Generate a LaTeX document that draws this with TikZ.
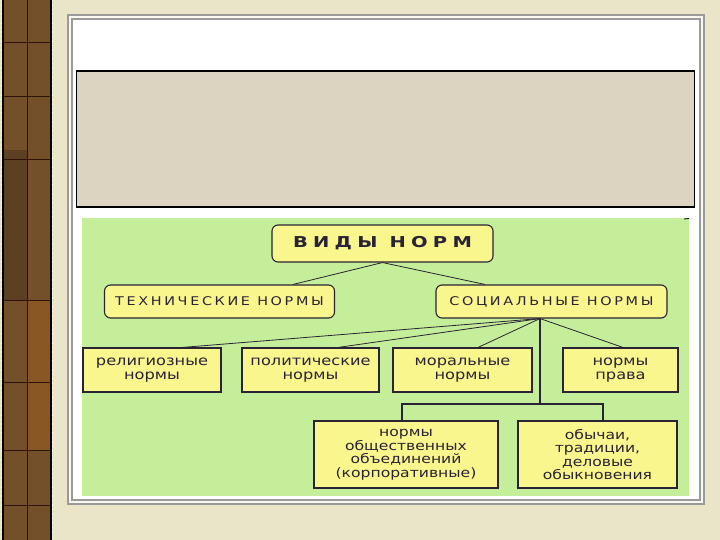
\documentclass[tikz,border=0pt]{standalone}
\usepackage{fontspec}
\setmainfont{DejaVu Sans}
\newfontfamily\titlefont[FakeStretch=1.3,LetterSpace=35]{DejaVu Sans Bold}
\newfontfamily\capfont[FakeStretch=1.2,LetterSpace=22]{DejaVu Sans}
\newfontfamily\boxfont[FakeStretch=1.2]{DejaVu Sans}
\definecolor{bgbeige}{HTML}{EAE4C9}
\definecolor{strip}{HTML}{74502A}
\definecolor{stripline}{HTML}{2E120A}
\definecolor{framegray}{HTML}{9A9A9A}
\definecolor{titlegray}{HTML}{DCD4C1}
\definecolor{leaf}{HTML}{C5EE9A}
\definecolor{boxyellow}{HTML}{F9F68E}
\definecolor{ink}{HTML}{2A2235}
\tikzset{
  rbox/.style={draw=ink, line width=1.1pt, fill=boxyellow, rounded corners=6pt,
    inner sep=0pt, text=ink, align=center},
  sbox/.style={draw=ink, line width=1.1pt, fill=boxyellow,
    inner sep=0pt, text=ink, align=center},
  twoline/.style={font=\boxfont\fontsize{13.5}{14}\selectfont},
  fourline/.style={font=\boxfont\fontsize{13}{13.5}\selectfont},
  capline/.style={font=\capfont\fontsize{12}{14}\selectfont},
  link/.style={draw=ink, line width=0.8pt},
  trunk/.style={draw=ink, line width=1.3pt},
}
\begin{document}
\begin{tikzpicture}[x=1pt,y=-1pt]
\useasboundingbox (0,0) rectangle (720,540);
% background
\fill[bgbeige] (0,0) rectangle (720,540);
% left strip
\fill[strip] (3,0) rectangle (51,540);
\fill[strip!80!black] (3,150) rectangle (27,300);
\fill[strip!85!orange] (27,300) rectangle (51,450);
\draw[stripline, line width=1pt] (27,0) -- (27,540);
\foreach \yy in {43,97,160,300,382,450,505}
  \draw[stripline, line width=1pt] (3,\yy) -- (51,\yy);
\draw[black, line width=1.5pt] (3,0) -- (3,540);
\draw[black, line width=1.5pt] (51,0) -- (51,540);
\draw[white!80!bgbeige, line width=1pt, dash pattern=on 1.5pt off 3pt] (1.5,0) -- (1.5,540);
\draw[white!80!bgbeige, line width=1pt, dash pattern=on 1.5pt off 3pt] (52.8,0) -- (52.8,540);
% frame
\draw[framegray, line width=1.2pt, fill=white!70!bgbeige] (68,15) rectangle (704,504);
\draw[framegray, line width=1.2pt, fill=white] (72,19) rectangle (700,500);
% title box
\draw[black, line width=1.2pt, fill=titlegray] (76.5,71) rectangle (694.5,207);
% green area
\fill[leaf] (82,218) rectangle (689,496);
\draw[black, line width=0.8pt] (684,219) -- (689,218.5);
% nodes
\node[rbox, minimum width=221pt, minimum height=37pt,
  font=\titlefont\fontsize{15}{17}\selectfont] (vidy) at (382.5,243.5) {ВИДЫ НОРМ};
\node[rbox, capline, minimum width=230pt, minimum height=33pt] (tech) at (219.5,301.5)
  {ТЕХНИЧЕСКИЕ НОРМЫ};
\node[rbox, capline, minimum width=231pt, minimum height=33pt] (soc) at (551.5,301.5)
  {СОЦИАЛЬНЫЕ НОРМЫ};
\node[sbox, twoline, minimum width=138pt, minimum height=44pt] (rel) at (152,370)
  {религиозные\\нормы};
\node[sbox, twoline, minimum width=137pt, minimum height=44pt] (pol) at (310.5,370)
  {политические\\нормы};
\node[sbox, twoline, minimum width=139pt, minimum height=44pt] (mor) at (462.5,370)
  {моральные\\нормы};
\node[sbox, twoline, minimum width=115pt, minimum height=44pt] (law) at (620.5,370)
  {нормы\\права};
\node[sbox, fourline, minimum width=184pt, minimum height=67pt] (obsh) at (406,454.5)
  {нормы\\общественных\\объединений\\(корпоративные)};
\node[sbox, fourline, minimum width=159pt, minimum height=67pt] (cust) at (597.5,454.5)
  {обычаи,\\традиции,\\деловые\\обыкновения};
% connectors
\coordinate (vb) at (vidy.south);
\coordinate (sb) at ([xshift=-11.5pt]soc.south);
\coordinate (jn) at (540,404);
\draw[link] (vb) -- ([xshift=73.5pt]tech.north);
\draw[link] (vb) -- ([xshift=-66.5pt]soc.north);
\draw[link] (sb) -- ([xshift=30pt]rel.north);
\draw[link] (sb) -- ([xshift=27.5pt]pol.north);
\draw[link] (sb) -- ([xshift=15.5pt]mor.north);
\draw[link] (sb) -- ([xshift=2.5pt]law.north);
\draw[trunk] (sb) -- (jn);
\draw[trunk] ([xshift=-4pt]obsh.north) |- (jn) -| ([xshift=5.5pt]cust.north);
\end{tikzpicture}
\end{document}
